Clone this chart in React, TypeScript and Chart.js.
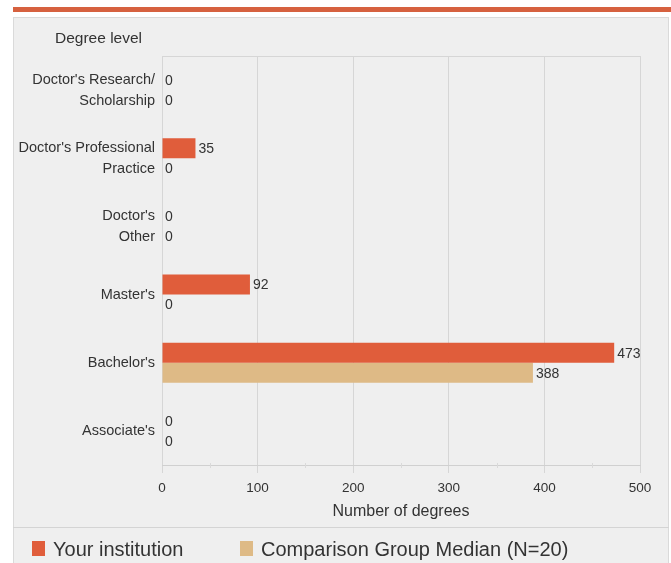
import React, { useEffect, useRef } from "react";
import { Chart, registerables } from "chart.js";

Chart.register(...registerables);

const categories: string[][] = [
  ["Doctor's Research/", "Scholarship"],
  ["Doctor's Professional", "Practice"],
  ["Doctor's", "Other"],
  ["Master's"],
  ["Bachelor's"],
  ["Associate's"],
];
const yourInstitution = [0, 35, 0, 92, 473, 0];
const comparisonMedian = [0, 0, 0, 0, 388, 0];
const seriesNames = ["Your institution", "Comparison Group Median (N=20)"];
const seriesColors = ["#E05D3B", "#DEBA86"];
const xMin = 0;
const xMax = 500;
const xStep = 100;

const FONT = "'Liberation Sans', Arial, sans-serif";
const TEXT = "#333333";

const framePlugin = {
  id: "frame",
  beforeDraw(chart: any) {
    const { ctx, width, height } = chart;
    ctx.save();
    ctx.fillStyle = "#ffffff";
    ctx.fillRect(0, 0, width, height);
    // orange rule at top
    ctx.fillStyle = "#D6613F";
    ctx.fillRect(13, 7, width - 13, 5);
    // grey panel
    ctx.fillStyle = "#EFEFEF";
    ctx.fillRect(13, 17, width - 15, height - 17);
    ctx.strokeStyle = "#DADADA";
    ctx.lineWidth = 1;
    ctx.strokeRect(13.5, 17.5, width - 16, height);
    // legend separator
    ctx.beginPath();
    ctx.moveTo(13, 527.5);
    ctx.lineTo(width - 2, 527.5);
    ctx.strokeStyle = "#D4D4D4";
    ctx.stroke();
    // axis title (category)
    ctx.fillStyle = TEXT;
    ctx.font = `15.5px ${FONT}`;
    ctx.textAlign = "left";
    ctx.textBaseline = "middle";
    ctx.fillText("Degree level", 55, 39);
    ctx.restore();
  },
  afterDraw(chart: any) {
    const { ctx, chartArea } = chart;
    ctx.save();
    // top border of plot
    ctx.strokeStyle = "#D6D6D6";
    ctx.lineWidth = 1;
    ctx.beginPath();
    ctx.moveTo(chartArea.left, Math.round(chartArea.top) + 0.5);
    ctx.lineTo(chartArea.right, Math.round(chartArea.top) + 0.5);
    ctx.stroke();
    // minor ticks on x axis
    const xs = chart.scales.x;
    ctx.strokeStyle = "#DADADA";
    for (let v = xMin + xStep / 2; v < xMax; v += xStep) {
      const px = Math.round(xs.getPixelForValue(v)) + 0.5;
      ctx.beginPath();
      ctx.moveTo(px, chartArea.bottom - 2);
      ctx.lineTo(px, chartArea.bottom + 3);
      ctx.stroke();
    }
    // legend
    const items = [
      { x: 32, label: seriesNames[0], color: seriesColors[0] },
      { x: 240, label: seriesNames[1], color: seriesColors[1] },
    ];
    ctx.font = `20px ${FONT}`;
    ctx.textBaseline = "middle";
    ctx.textAlign = "left";
    for (const it of items) {
      ctx.fillStyle = it.color;
      ctx.fillRect(it.x, 541, 13, 15);
      ctx.fillStyle = TEXT;
      ctx.fillText(it.label, it.x + 21, 550);
    }
    ctx.restore();
  },
};

const valueLabelPlugin = {
  id: "valueLabels",
  afterDatasetsDraw(chart: any) {
    const { ctx } = chart;
    ctx.save();
    ctx.font = `14px ${FONT}`;
    ctx.fillStyle = TEXT;
    ctx.textAlign = "left";
    ctx.textBaseline = "middle";
    chart.data.datasets.forEach((ds: any, di: number) => {
      const meta = chart.getDatasetMeta(di);
      meta.data.forEach((el: any, i: number) => {
        ctx.fillText(String(ds.data[i]), el.x + 3, el.y + 1);
      });
    });
    ctx.restore();
  },
};

export default function App() {
  const ref = useRef<HTMLCanvasElement>(null);
  useEffect(() => {
    const canvas = ref.current!;
    const chart = new Chart(canvas, {
      type: "bar",
      data: {
        labels: categories,
        datasets: [
          {
            label: seriesNames[0],
            data: yourInstitution,
            backgroundColor: seriesColors[0],
            barPercentage: 1,
            categoryPercentage: 0.59,
          },
          {
            label: seriesNames[1],
            data: comparisonMedian,
            backgroundColor: seriesColors[1],
            barPercentage: 1,
            categoryPercentage: 0.59,
          },
        ],
      },
      options: {
        indexAxis: "y",
        animation: false,
        responsive: false,
        devicePixelRatio: 1,
        layout: { padding: { top: 56, right: 31, bottom: 36, left: 0 } },
        plugins: {
          legend: { display: false },
          tooltip: { enabled: false },
          title: { display: false },
        },
        scales: {
          x: {
            type: "linear",
            min: xMin,
            max: xMax,
            ticks: {
              stepSize: xStep,
              color: TEXT,
              font: { family: FONT, size: 13.5 },
              padding: 7,
            },
            grid: {
              color: "#D6D6D6",
              drawTicks: true,
              tickLength: 8,
              tickColor: "#D6D6D6",
            },
            border: { display: true, color: "#D0D0D0" },
            title: {
              display: true,
              text: "Number of degrees",
              color: TEXT,
              font: { family: FONT, size: 16 },
              padding: { top: 0, bottom: 6 },
            },
            afterFit(scale: any) {
              scale.height = 62;
            },
          },
          y: {
            ticks: {
              color: TEXT,
              font: { family: FONT, size: 14.5, lineHeight: 1.45 },
              padding: 7,
            },
            grid: { display: false, drawTicks: false },
            border: { display: false },
            afterFit(scale: any) {
              scale.width = 162;
            },
          },
        },
      },
      plugins: [framePlugin, valueLabelPlugin],
    } as any);
    return () => chart.destroy();
  }, []);
  return (
    <div style={{ position: "absolute", left: 0, top: 0, width: 671, height: 563 }}>
      <canvas ref={ref} width={671} height={563} style={{ display: "block" }} />
    </div>
  );
}
